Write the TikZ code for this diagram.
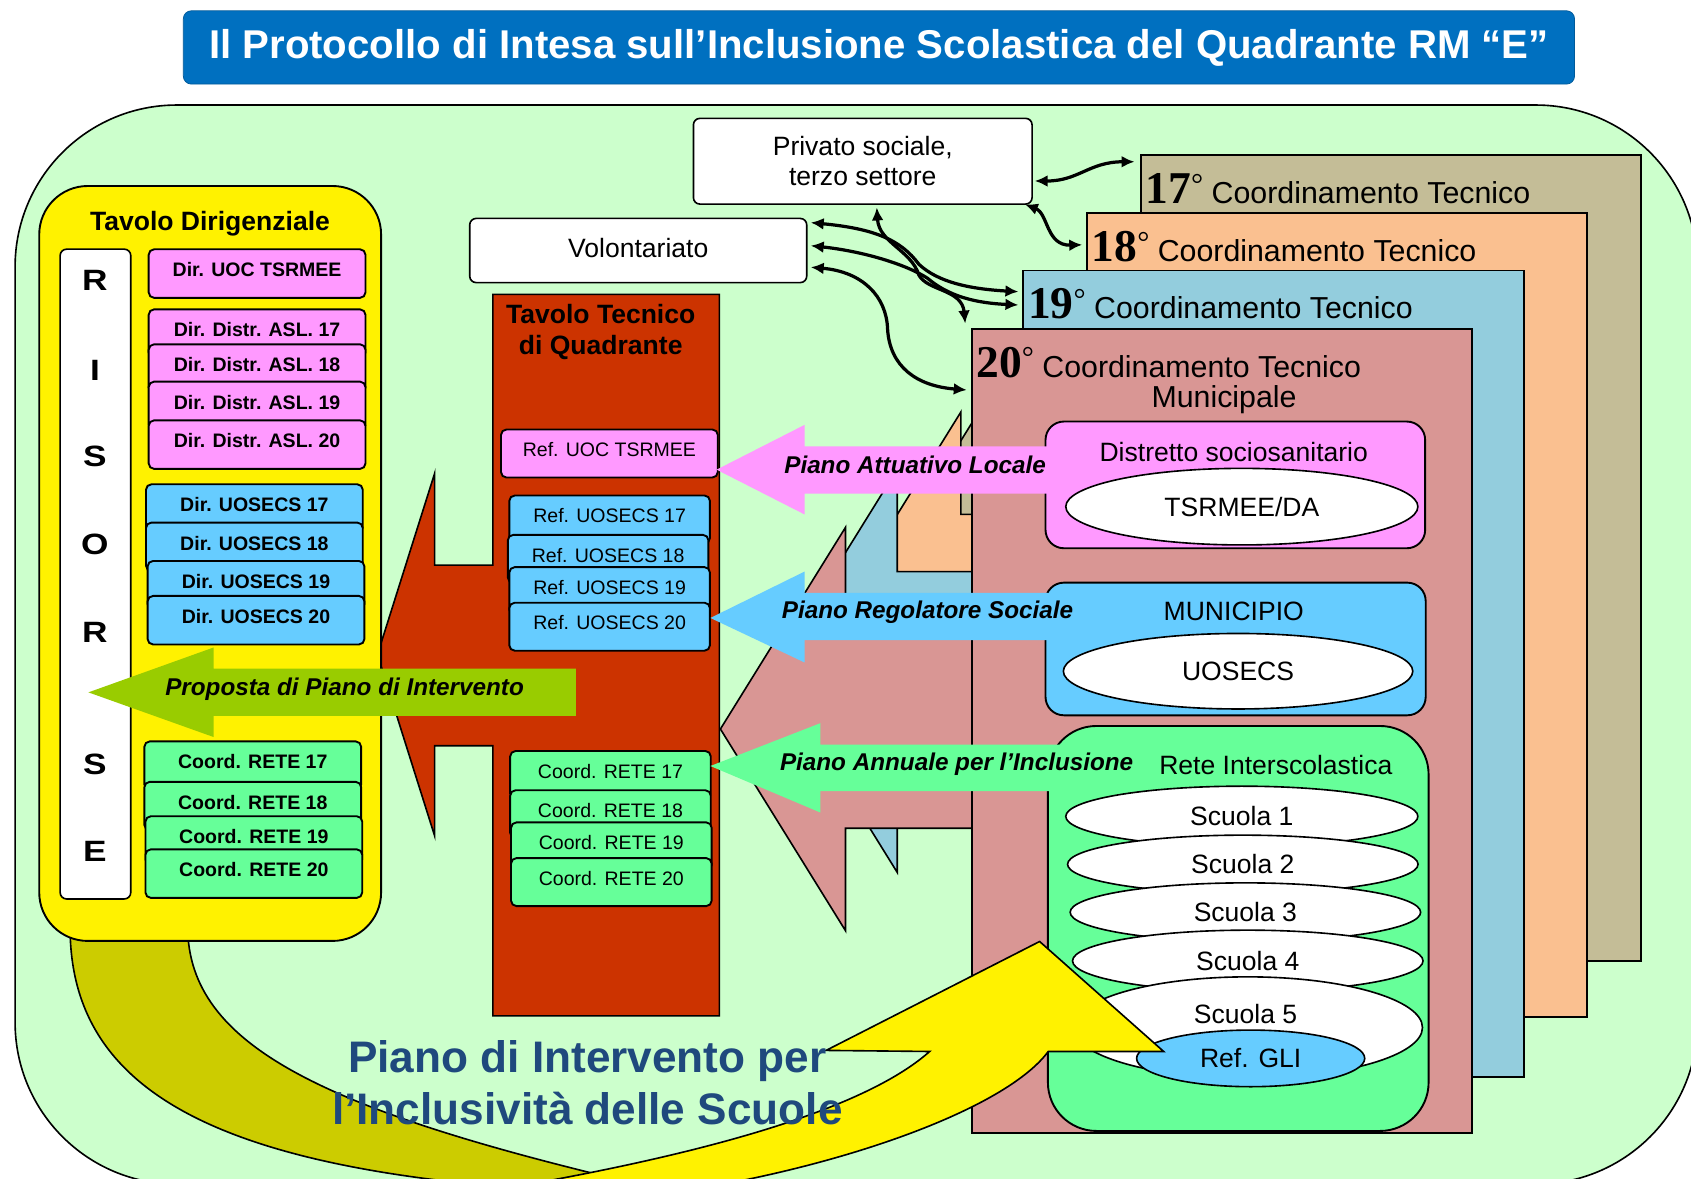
\documentclass[tikz,border=0pt]{standalone}
\usepackage{fontspec}
\setmainfont{Liberation Sans}
\newfontfamily\numfont{Liberation Serif}
\usepackage{tikz}
\usetikzlibrary{backgrounds}
\usetikzlibrary{positioning}
\usetikzlibrary{calc}
\usetikzlibrary{shapes.geometric}
\usetikzlibrary{arrows.meta}
\usepackage{xcolor}
\definecolor{fieldgreen}{HTML}{CCFFCC}
\definecolor{titleblue}{HTML}{0070C0}
\definecolor{aslpink}{HTML}{FF99FF}
\definecolor{uosblue}{HTML}{66CCFF}
\definecolor{retegreen}{HTML}{66FF99}
\definecolor{tecred}{HTML}{CC3300}
\definecolor{propgreen}{HTML}{99CC00}
\definecolor{olive}{HTML}{CCCC00}
\definecolor{navy}{HTML}{1F497D}
\definecolor{c17}{HTML}{C4BD97}
\definecolor{c18}{HTML}{FAC090}
\definecolor{c19}{HTML}{93CDDD}
\definecolor{c20}{HTML}{D99694}

\begin{document}
\begin{tikzpicture}[x=0.2mm, y={(0mm,-0.2mm)},
    card/.style={draw, line width=0.35mm, rounded corners=1mm, anchor=north west,
                 inner sep=0pt, text height=7.4pt, text depth=4pt,
                 font=\fontsize{10.3}{12}\selectfont},
    dircard/.style={card, font=\bfseries\fontsize{10.3}{12}\selectfont,
                    minimum width=40.2mm, minimum height=9mm},
    refcard/.style={card, minimum width=37.2mm, minimum height=8.9mm},
    coordbox/.style={draw, line width=0.35mm, anchor=north west, inner sep=0pt},
    coordhead/.style={anchor=west, inner sep=0pt, font=\fontsize{16}{19}\selectfont},
    blockarrow/.style={draw, line width=0.3mm},
    whitebox/.style={draw, fill=white, line width=0.3mm, rounded corners=1.2mm,
                     inner sep=0pt, align=center, font=\fontsize{14}{16}\selectfont},
    innerbox/.style={draw, line width=0.35mm, anchor=north west, inner sep=0pt,
                     rounded corners=3.4mm},
    school/.style={ellipse, draw, fill=white, line width=0.3mm, inner sep=0pt,
                   font=\fontsize{14}{16}\selectfont},
    plan/.style={font=\bfseries\itshape\fontsize{12.8}{15}\selectfont},
    risletter/.style={font=\bfseries\fontsize{15.5}{18}\selectfont},
    link/.style={line width=0.6mm,
                 {Latex[length=2.4mm,width=2.2mm]}-{Latex[length=2.4mm,width=2.2mm]}},
  ]

\useasboundingbox (0,0) rectangle (1568,1093);

% field and title
\begin{pgfonlayer}{background}
  \draw[fill=fieldgreen, line width=0.3mm, rounded corners=30mm]
    (14,97.4) rectangle (1574,1098);
\end{pgfonlayer}

\node[fill=titleblue, draw=titleblue!80!black, rounded corners=1.5mm,
      minimum width=258mm, minimum height=13.6mm, text=white,
      font=\bfseries\fontsize{21.2}{25}\selectfont] (title) at (815,44)
  {Il Protocollo di Intesa sull’Inclusione Scolastica del Quadrante RM “E”};

%C: coordinamenti tecnici, each one with its arrow behind
\draw[blockarrow, fill=c17, shift={(825,515)}]
  (0,0) -- (116,-187) -- (116,-92) -- (252,-92) -- (252,92) -- (116,92) -- (116,187) -- cycle;
\node[coordbox, fill=c17, minimum width=92.8mm, minimum height=149.4mm] (ct17) at (1057,143) {};
\node[coordhead] (h17) at ($(ct17.north west)+(5,32)$)
  {{\numfont\bfseries\fontsize{24}{26}\selectfont 17}\raisebox{5pt}{\numfont °} Coordinamento Tecnico};

\draw[blockarrow, fill=c18, shift={(775,569)}]
  (0,0) -- (116,-187) -- (116,-92) -- (252,-92) -- (252,92) -- (116,92) -- (116,187) -- cycle;
\node[coordbox, fill=c18, minimum width=92.8mm, minimum height=149mm] (ct18) at (1007,197) {};
\node[coordhead] (h18) at ($(ct18.north west)+(5,32)$)
  {{\numfont\bfseries\fontsize{24}{26}\selectfont 18}\raisebox{5pt}{\numfont °} Coordinamento Tecnico};

\draw[blockarrow, fill=c19, shift={(716,622)}]
  (0,0) -- (116,-187) -- (116,-92) -- (252,-92) -- (252,92) -- (116,92) -- (116,187) -- cycle;
\node[coordbox, fill=c19, minimum width=92.8mm, minimum height=149.6mm] (ct19) at (948,250) {};
\node[coordhead] (h19) at ($(ct19.north west)+(5,32)$)
  {{\numfont\bfseries\fontsize{24}{26}\selectfont 19}\raisebox{5pt}{\numfont °} Coordinamento Tecnico};

\draw[blockarrow, fill=c20, shift={(668,676)}]
  (0,0) -- (116,-187) -- (116,-92) -- (252,-92) -- (252,92) -- (116,92) -- (116,187) -- cycle;
\node[coordbox, fill=c20, minimum width=92.8mm, minimum height=149.2mm] (ct20) at (900,304) {};
\node[coordhead] (h20) at ($(ct20.north west)+(5,32)$)
  {{\numfont\bfseries\fontsize{24}{26}\selectfont 20}\raisebox{5pt}{\numfont °} Coordinamento Tecnico};
\node[font=\fontsize{16}{19}\selectfont] (h20b) at (1135,371) {Municipale};

%T: tavolo tecnico di quadrante
\draw[blockarrow, fill=tecred]
  (457,273) -- (667,273) -- (667,942) -- (457,942) -- (457,691.5) -- (403,691.5)
  -- (403,775) -- (350,607) -- (403,439) -- (403,524) -- (457,524) -- cycle;
\node[align=center, font=\bfseries\fontsize{14}{16}\selectfont] (tavtec) at (557,308)
  {Tavolo Tecnico\\di Quadrante};

%D: tavolo dirigenziale
\draw[blockarrow, fill=olive]
  (65,860) .. controls (65,1000) and (180,1075) .. (460,1100) -- (600,1100)
  .. controls (300,1030) and (175,970) .. (174,860) -- cycle;
\node[draw, fill=yellow, line width=0.35mm, rounded corners=9mm, anchor=north west,
      minimum width=63.4mm, minimum height=140mm, inner sep=0pt] (tavdir) at (35.5,171.6) {};
\node[font=\bfseries\fontsize{14}{16}\selectfont] (tavdirtitle) at (194.7,207) {Tavolo Dirigenziale};

\node[draw, fill=white, line width=0.3mm, rounded corners=1.2mm, anchor=north west,
      minimum width=13.1mm, minimum height=120.5mm, inner sep=0pt] (risorse) at (55,230.3) {};
\node[risletter] (r1) at (88,260) {\scalebox{1.2}[1]{R}};
\node[risletter] (r2) at (88,343) {\scalebox{1.2}[1]{I}};
\node[risletter] (r3) at (88,423) {\scalebox{1.2}[1]{S}};
\node[risletter] (r4) at (88,505) {\scalebox{1.2}[1]{O}};
\node[risletter] (r5) at (88,586) {\scalebox{1.2}[1]{R}};
\node[risletter] (r6) at (88,709) {\scalebox{1.2}[1]{S}};
\node[risletter] (r7) at (88,789) {\scalebox{1.2}[1]{E}};

\node[dircard, fill=aslpink] (duoc) at (137,230.3) {Dir. UOC TSRMEE};
\node[dircard, fill=aslpink] (dasl17) at (137,286) {Dir. Distr. ASL. 17};
\node[dircard, fill=aslpink] (dasl18) at (137,318.4) {Dir. Distr. ASL. 18};
\node[dircard, fill=aslpink] (dasl19) at (137,353) {Dir. Distr. ASL. 19};
\node[dircard, fill=aslpink] (dasl20) at (137,388.9) {Dir. Distr. ASL. 20};

\node[dircard, fill=uosblue] (duos17) at (134.5,448.2) {Dir. UOSECS 17};
\node[dircard, fill=uosblue] (duos18) at (134.5,483.7) {Dir. UOSECS 18};
\node[dircard, fill=uosblue] (duos19) at (136,519.3) {Dir. UOSECS 19};
\node[dircard, fill=uosblue] (duos20) at (136,551.7) {Dir. UOSECS 20};

\node[dircard, fill=retegreen] (drete17) at (133,686.6) {Coord. RETE 17};
\node[dircard, fill=retegreen] (drete18) at (133,724.1) {Coord. RETE 18};
\node[dircard, fill=retegreen] (drete19) at (134,756) {Coord. RETE 19};
\node[dircard, fill=retegreen] (drete20) at (134,786.7) {Coord. RETE 20};

% proposta
\fill[propgreen] (82,642) -- (198,600.4) -- (198,620) -- (534,620) -- (534,663.8)
  -- (198,663.8) -- (198,683.4) -- cycle;
\node[plan] (prop) at (319.5,639) {Proposta di Piano di Intervento};

% referenti del tavolo tecnico
\node[refcard, fill=aslpink, minimum width=40.2mm] (ruoc) at (463.7,397.4) {Ref. UOC TSRMEE};
\node[refcard, fill=uosblue] (ruos17) at (471.4,458.6) {Ref. UOSECS 17};
\node[refcard, fill=uosblue] (ruos18) at (470,495.1) {Ref. UOSECS 18};
\node[refcard, fill=uosblue] (ruos19) at (471.4,525) {Ref. UOSECS 19};
\node[refcard, fill=uosblue] (ruos20) at (471.4,558) {Ref. UOSECS 20};
\node[refcard, fill=retegreen] (rrete17) at (472.2,695.5) {Coord. RETE 17};
\node[refcard, fill=retegreen] (rrete18) at (472.2,731.9) {Coord. RETE 18};
\node[refcard, fill=retegreen] (rrete19) at (473,761.7) {Coord. RETE 19};
\node[refcard, fill=retegreen] (rrete20) at (473,794.8) {Coord. RETE 20};

%M: inside the municipal coordination
\node[innerbox, fill=aslpink, minimum width=70.4mm, minimum height=23.5mm] (dist) at (968.6,390) {};
\node[font=\fontsize{14}{16}\selectfont] (disttitle) at (1144,418.8) {Distretto sociosanitario};
\node[school, minimum width=65.3mm, minimum height=14.2mm] (tsrmee) at (1151.5,469.8) {TSRMEE/DA};

\node[innerbox, fill=uosblue, minimum width=70.5mm, minimum height=24.6mm] (muni) at (968.6,539.4) {};
\node[font=\fontsize{14}{16}\selectfont] (munititle) at (1144,567.2) {MUNICIPIO};
\node[school, minimum width=64.8mm, minimum height=14mm] (uosecs) at (1148,622.4) {UOSECS};

\node[innerbox, fill=retegreen, rounded corners=9mm, minimum width=70.6mm, minimum height=75.1mm] (rete) at (970.8,672.3) {};
\node[font=\fontsize{14}{16}\selectfont] (retetitle) at (1183,709.4) {Rete Interscolastica};
\node[school, minimum width=65.3mm, minimum height=11.2mm] (sc1) at (1151.5,757) {Scuola 1};
\node[school, minimum width=65mm, minimum height=10.8mm] (sc2) at (1152.4,801.4) {Scuola 2};
\node[school, minimum width=65mm, minimum height=10.9mm] (sc3) at (1154.8,845.9) {Scuola 3};
\node[school, minimum width=65mm, minimum height=11.4mm] (sc4) at (1157,891) {Scuola 4};
\node[school, minimum width=64.8mm, minimum height=18.8mm] (sc5) at (1157,952.8) {};
\node[font=\fontsize{14}{16}\selectfont] (sc5text) at ($(sc5)+(-2,-13)$) {Scuola 5};
\node[school, fill=uosblue, minimum width=42.3mm, minimum height=10.5mm] (gli) at (1159.7,981.4) {Ref. GLI};

% piani
\fill[aslpink] (664.5,435.5) -- (746,394) -- (746,414) -- (975,414) -- (975,457.7)
  -- (746,457.7) -- (746,477) -- cycle;
\node[plan] (pal) at (848.5,431) {Piano Attuativo Locale};
\fill[uosblue] (658.7,573) -- (746,530) -- (746,549.8) -- (975,549.8) -- (975,593.5)
  -- (746,593.5) -- (746,614.3) -- cycle;
\node[plan] (prs) at (860,568) {Piano Regolatore Sociale};
\fill[retegreen] (658.7,710.3) -- (760.6,670.6) -- (760.6,690.5) -- (990,690.5) -- (990,733.5)
  -- (760.6,733.5) -- (760.6,753.4) -- cycle;
\node[plan] (pai) at (887,709) {Piano Annuale per l’Inclusione};

% piano di intervento per le scuole
\draw[blockarrow, fill=yellow]
  (862,975) -- (766,974) -- (964,873) -- (1079,975) -- (972,975)
  .. controls (935,1025) and (800,1075) .. (660,1100) -- (480,1100)
  .. controls (650,1070) and (800,1030) .. (862,975) -- cycle;
\node[align=center, text=navy, font=\bfseries\fontsize{23.3}{27.9}\selectfont] (pis) at (544.6,1004)
  {Piano di Intervento per\\l’Inclusività delle Scuole};

%S: terzo settore
\node[whitebox, minimum width=62.8mm, minimum height=15.9mm] (priv) at (800,149.5)
  {Privato sociale,\\terzo settore};
\node[whitebox, minimum width=62.5mm, minimum height=11.9mm, text depth=3pt] (vol) at (591.8,232.3) {Volontariato};

% links
\draw[link] ($(priv.north east)+(1.7,58.8)$) .. controls (1000,168) and (1010,150) .. ($(ct17.north west)+(-5,7)$);
\draw[link] ($(priv.south east)+(-7.4,-0.6)$) .. controls (972,198) and (970,228) .. ($(ct18.north west)+(-3.5,30)$);
\draw[link] ($(vol.north east)+(3,4.6)$) .. controls (810,212) and (835,222) .. (852,245)
  .. controls (870,262) and (900,268) .. ($(ct19.north west)+(-3.7,20.5)$);
\draw[link] ($(vol.north east)+(3,26)$) .. controls (800,233) and (840,245) .. (860,258)
  .. controls (880,275) and (905,281) .. ($(ct19.north west)+(-3.7,32.8)$);
\draw[link] ($(vol.north east)+(3,46)$) .. controls (800,252) and (822,275) .. (823,305)
  .. controls (825,340) and (850,358) .. ($(ct20.north west)+(-3.6,57.6)$);
\draw[link] ($(priv.south)+(13,2.4)$) .. controls (815,225) and (845,232) .. (852,255)
  .. controls (860,270) and (892,268) .. ($(ct20.north west)+(-5,-4)$);
\end{tikzpicture}
\end{document}
